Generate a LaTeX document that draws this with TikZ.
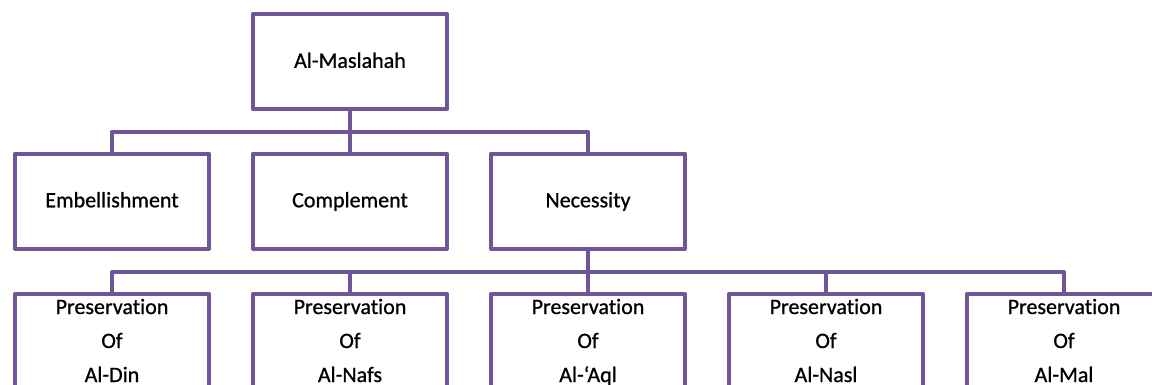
\documentclass[tikz,border=0pt]{standalone}
\usepackage{fontspec}
\setmainfont{Carlito}[Ligatures={NoCommon}, FakeBold=0.8]
\definecolor{mpurple}{RGB}{112,86,152}
\begin{document}
\begin{tikzpicture}[x=0.75pt,y=-0.75pt,
  box/.style={draw=mpurple, line width=3pt, fill=white, rectangle, outer sep=0pt, inner sep=0pt, line join=round, font=\fontsize{16.5pt}{25.5pt}\selectfont},
  lbox/.style={box, minimum width=145.5pt, minimum height=71.25pt, text height=13.2pt, text depth=3.75pt},
  pbox/.style={box, anchor=north, minimum width=145.5pt, text height=15pt, text depth=82.5pt},
  link/.style={draw=mpurple, line width=3pt, line join=round}]
\clip (0,0) rectangle (1152,385);
\fill[white] (0,0) rectangle (1152,385);
% nodes
\node[lbox] (top) at (350,61.5) {Al-Maslahah};
\node[lbox] (emb) at (112,201) {Embellishment};
\node[lbox] (comp) at (350,201) {Complement};
\node[lbox] (nec) at (588,201) {Necessity};
\node[pbox] (p1) at (112,294) {\parbox[t]{140pt}{\centering Preservation\\Of\\Al-Din}};
\node[pbox] (p2) at (350,294) {\parbox[t]{140pt}{\centering Preservation\\Of\\Al-Nafs}};
\node[pbox] (p3) at (588,294) {\parbox[t]{140pt}{\centering Preservation\\Of\\Al-‘Aql}};
\node[pbox] (p4) at (826,294) {\parbox[t]{140pt}{\centering Preservation\\Of\\Al-Nasl}};
\node[pbox] (p5) at (1064,294) {\parbox[t]{140pt}{\centering Preservation\\Of\\Al-Mal}};
% connectors
\coordinate (j1) at (350,131.7);
\coordinate (j2) at (588,272);
\draw[link] (top.south) -- (comp.north);
\draw[link] (emb.north) |- (j1) -| (nec.north);
\draw[link] (nec.south) -- (p3.north);
\draw[link] (p1.north) |- (j2) -| (p5.north);
\draw[link] (p2.north) -- (p2.north |- j2);
\draw[link] (p4.north) -- (p4.north |- j2);
\end{tikzpicture}
\end{document}
